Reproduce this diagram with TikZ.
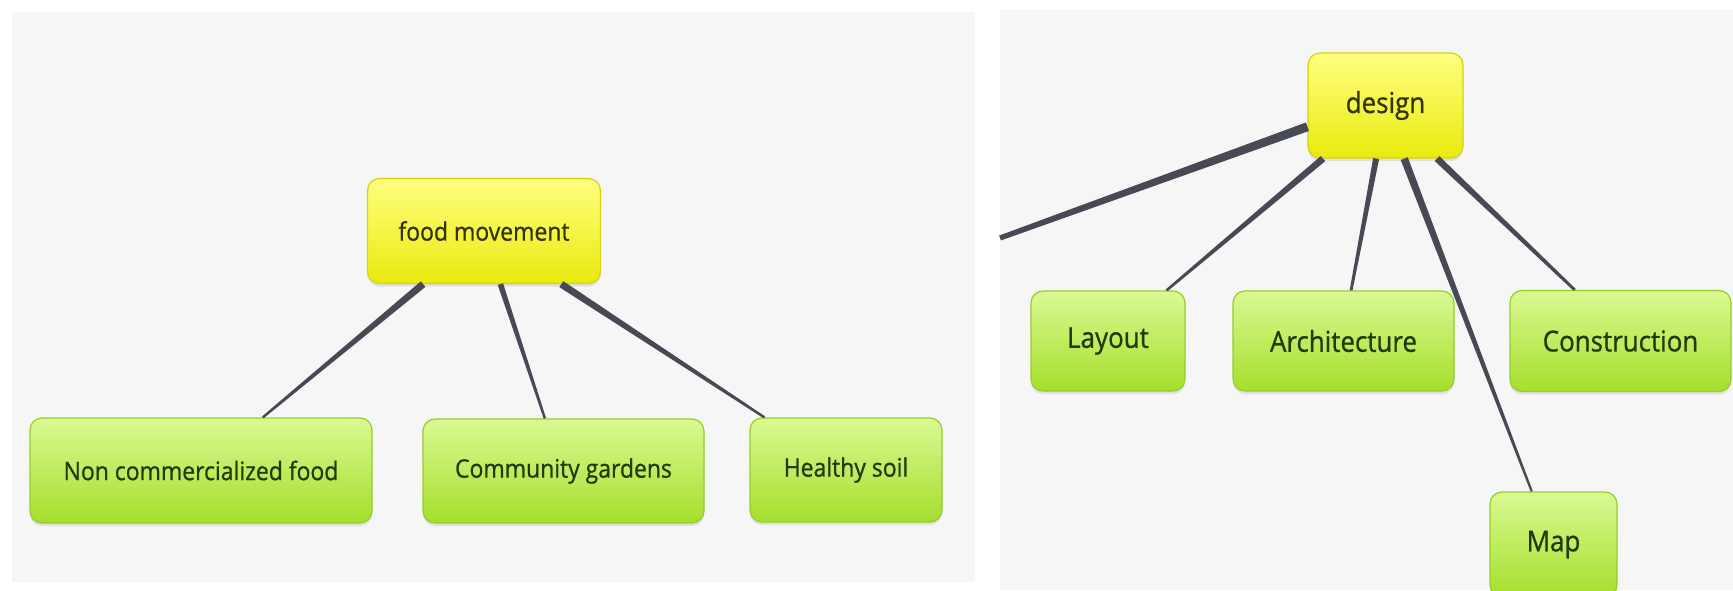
\documentclass[tikz,border=0pt]{standalone}
\usepackage{fontspec}
\setmainfont{Open Sans}[FakeStretch=0.9,FakeBold=0.8]
\usetikzlibrary{calc,shadows}
\definecolor{panel}{HTML}{F6F6F6}
\definecolor{conn}{HTML}{474955}
\definecolor{ytop}{HTML}{FFFF80}
\definecolor{ybot}{HTML}{EAEA0E}
\definecolor{ybord}{HTML}{D4D40C}
\definecolor{gtop}{HTML}{DAF992}
\definecolor{gbot}{HTML}{A4DF2C}
\definecolor{gbord}{HTML}{98CC2C}
\definecolor{gtext}{HTML}{223A08}
\definecolor{ytext}{HTML}{33330A}
\tikzset{
  box/.style={rounded corners=12pt, inner sep=0pt, align=center,
    drop shadow={opacity=0.18, shadow xshift=0pt, shadow yshift=-3pt}},
  ybox/.style={box, draw=ybord, line width=1.2pt, top color=ytop, bottom color=ybot, text=ytext},
  gbox/.style={box, draw=gbord, line width=1.2pt, top color=gtop, bottom color=gbot, text=gtext},
  lfont/.style={font=\fontsize{25.5}{28}\selectfont},
  rfont/.style={font=\fontsize{28.8}{32}\selectfont},
}
\newcommand{\taperline}[4]{\fill[conn] ($(#1)!#3!90:(#2)$) -- ($(#1)!#3!-90:(#2)$) -- ($(#2)!#4!90:(#1)$) -- ($(#2)!#4!-90:(#1)$) -- cycle;}
\begin{document}
\begin{tikzpicture}[x=1pt,y=-1pt]
\useasboundingbox (0,0) rectangle (1733,590);
\clip (0,0) rectangle (1733,590);
\fill[white] (0,0) rectangle (1733,590);
\fill[panel] (12,12) rectangle (975,582);
\fill[panel] (1000,10) rectangle (1733,590);

% left panel nodes
\node[ybox, lfont, minimum width=233pt, minimum height=105pt] (fm) at (484,231) {food movement};
\node[gbox, lfont, minimum width=342pt, minimum height=105pt] (ncf) at (201,470.5) {Non commercialized food};
\node[gbox, lfont, minimum width=281pt, minimum height=104pt] (cg) at (563.5,471) {Community gardens};
\node[gbox, lfont, minimum width=192pt, minimum height=104pt] (hs) at (846,470) {Healthy soil};

% right panel nodes
\node[ybox, rfont, minimum width=155pt, minimum height=105pt] (design) at (1385.5,105.5) {design};
\node[gbox, rfont, minimum width=154pt, minimum height=100pt] (layout) at (1108,341) {Layout};
\node[gbox, rfont, minimum width=221pt, minimum height=100pt] (arch) at (1343.5,341) {Architecture};
\node[gbox, rfont, minimum width=221pt, minimum height=101pt] (cons) at (1620.5,341) {Construction};
\node[gbox, rfont, minimum width=127pt, minimum height=105pt] (map) at (1553.5,544.5) {Map};

% connector end points
\coordinate (fm-a) at ($(fm.south west)!0.24!(fm.south east)$);
\coordinate (fm-b) at ($(fm.south west)!0.57!(fm.south east)$);
\coordinate (fm-c) at ($(fm.south west)!0.83!(fm.south east)$);
\coordinate (ncf-t) at ($(ncf.north west)!0.68!(ncf.north east)$);
\coordinate (cg-t) at ($(cg.north west)!0.434!(cg.north east)$);
\coordinate (hs-t) at ($(hs.north west)!0.078!(hs.north east)$);

\coordinate (de-a) at ($(design.south west)!0.10!(design.south east)$);
\coordinate (de-b) at ($(design.south west)!0.44!(design.south east)$);
\coordinate (de-c) at ($(design.south west)!0.62!(design.south east)$);
\coordinate (de-d) at ($(design.south west)!0.83!(design.south east)$);
\coordinate (de-l) at ($(design.north west)!0.7!(design.south west)$);
\coordinate (lay-t) at ($(layout.north west)!0.877!(layout.north east)$);
\coordinate (arch-t) at ($(arch.north west)!0.534!(arch.north east)$);
\coordinate (map-t) at ($(map.north west)!0.33!(map.north east)$);
\coordinate (cons-t) at ($(cons.north west)!0.294!(cons.north east)$);
\coordinate (offleft) at (1000,238);

% connectors
\taperline{fm-a}{ncf-t}{3.6pt}{1.2pt}
\taperline{fm-b}{cg-t}{2.8pt}{1.2pt}
\taperline{fm-c}{hs-t}{3.6pt}{1.2pt}

\taperline{de-l}{offleft}{4.5pt}{2.6pt}
\taperline{de-a}{lay-t}{3.4pt}{1.3pt}
\taperline{de-b}{arch-t}{3pt}{1.4pt}
\taperline{de-c}{map-t}{3.8pt}{1.1pt}
\taperline{de-d}{cons-t}{3.4pt}{1.4pt}
\end{tikzpicture}
\end{document}
